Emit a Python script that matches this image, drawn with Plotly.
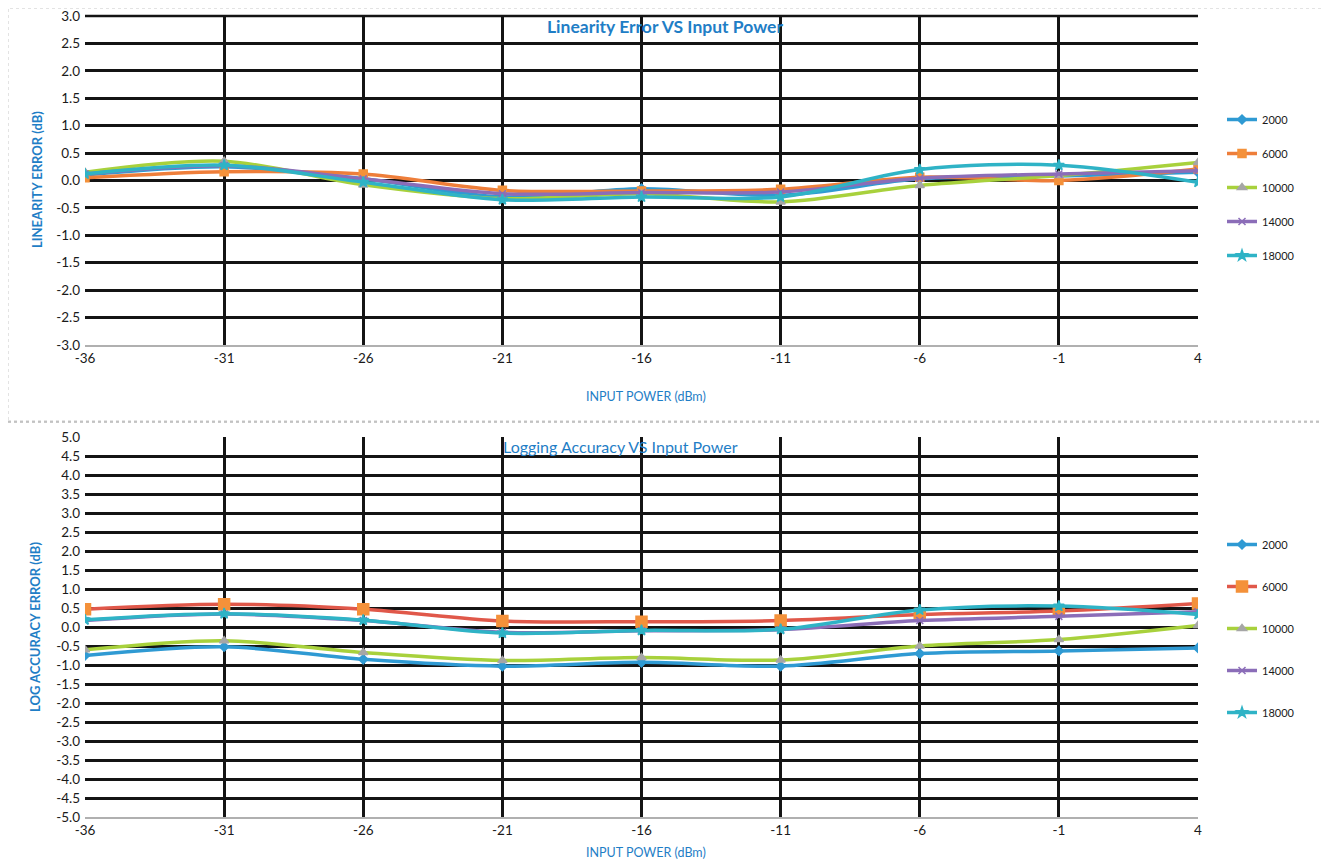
import plotly.graph_objects as go

# ---- data ----
input_power = [-36, -31, -26, -21, -16, -11, -6, -1, 4]
series_names = ["2000", "6000", "10000", "14000", "18000"]

lin_2000 = [0.10, 0.25, 0.03, -0.30, -0.15, -0.27, 0.03, 0.08, 0.15]
lin_6000 = [0.05, 0.16, 0.12, -0.18, -0.19, -0.16, 0.06, 0.00, 0.21]
lin_10000 = [0.15, 0.35, -0.08, -0.33, -0.24, -0.39, -0.09, 0.09, 0.33]
lin_14000 = [0.12, 0.27, 0.03, -0.24, -0.22, -0.21, 0.04, 0.12, 0.18]
lin_18000 = [0.12, 0.28, -0.03, -0.35, -0.30, -0.30, 0.20, 0.28, -0.03]

log_2000 = [-0.75, -0.52, -0.85, -1.03, -0.93, -1.03, -0.70, -0.63, -0.55]
log_6000 = [0.47, 0.60, 0.47, 0.16, 0.14, 0.17, 0.33, 0.42, 0.62]
log_10000 = [-0.60, -0.36, -0.67, -0.88, -0.80, -0.87, -0.50, -0.33, 0.04]
log_14000 = [0.17, 0.34, 0.17, -0.14, -0.10, -0.07, 0.17, 0.28, 0.40]
log_18000 = [0.19, 0.35, 0.18, -0.16, -0.09, -0.06, 0.45, 0.55, 0.33]

x_ticks = [-36, -31, -26, -21, -16, -11, -6, -1, 4]
lin_yticks = [-3.0 + 0.5 * i for i in range(13)]
log_yticks = [-5.0 + 0.5 * i for i in range(21)]

x_ticktext = [str(v) for v in x_ticks]
lin_ticktext = [f"{v:.1f}" for v in lin_yticks]
log_ticktext = [f"{v:.1f}" for v in log_yticks]

lin_data = [lin_2000, lin_6000, lin_10000, lin_14000, lin_18000]
log_data = [log_2000, log_6000, log_10000, log_14000, log_18000]

# ---- styles ----
line_colors = ["#2F9AD3", "#E0584A", "#A8D13C", "#8B6DB8", "#2FB3C6"]
lin_line_colors = ["#2F9AD3", "#EE7E3A", "#A8D13C", "#8B6DB8", "#2FB3C6"]
marker_symbols = ["diamond", "square", "triangle-up", "x-thin-open", "star"]
marker_colors = ["#2F9AD3", "#F4913A", "#A6A6A6", "#8B6DB8", "#2FB3C6"]
marker_sizes = [7, 8, 8, 7, 8]

W, H = 1330, 863
OFF = 8  # page body margin shifts the figure by this many pixels
FONT = "Lato"
BLUE = "#1F7EC6"

def px_x(p):
    return (p - OFF) / W

def px_y(p):
    return 1 - (p - OFF) / H

fig = go.Figure()

for i, name in enumerate(series_names):
    mk = dict(symbol=marker_symbols[i], size=marker_sizes[i], color=marker_colors[i],
              line=dict(width=1.5, color=marker_colors[i]))
    fig.add_trace(go.Scatter(
        x=input_power, y=lin_data[i], name=name, mode="lines+markers",
        line=dict(color=lin_line_colors[i], width=3.5, shape="spline", smoothing=0.9),
        marker=mk, xaxis="x", yaxis="y", legend="legend", legendgroup="a" + name))
for i, name in enumerate(series_names):
    mk = dict(symbol=marker_symbols[i], size=marker_sizes[i] + (3 if i == 1 else 0),
              color=marker_colors[i], line=dict(width=1.5, color=marker_colors[i]))
    fig.add_trace(go.Scatter(
        x=input_power, y=log_data[i], name=name, mode="lines+markers",
        line=dict(color=line_colors[i], width=3.5, shape="spline", smoothing=0.9),
        marker=mk, xaxis="x2", yaxis="y2", legend="legend2", legendgroup="b" + name))

grid = dict(showgrid=True, gridcolor="#141414", gridwidth=2.6, zeroline=False,
            ticks="", automargin=False, ticklabeloverflow="allow",
            tickfont=dict(family=FONT, size=13.5, color="#1a1a1a"))

xdom = [px_x(85), px_x(1198)]
fig.update_layout(
    width=W, height=H,
    margin=dict(l=0, r=0, t=0, b=0, autoexpand=False),
    paper_bgcolor="white", plot_bgcolor="white",
    font=dict(family=FONT),
    xaxis=dict(domain=xdom, range=[-36, 4], tickvals=x_ticks, ticktext=x_ticktext,
               anchor="y", showline=True, linecolor="#B0B0B0", linewidth=1.5, **grid),
    yaxis=dict(domain=[px_y(345), px_y(16)], range=[-3, 3], tickvals=lin_yticks,
               ticktext=lin_ticktext, anchor="x", ticklabelstandoff=4, **grid),
    xaxis2=dict(domain=xdom, range=[-36, 4], tickvals=x_ticks, ticktext=x_ticktext,
                anchor="y2", showline=True, linecolor="#B0B0B0", linewidth=1.5, **grid),
    yaxis2=dict(domain=[px_y(817), px_y(437)], range=[-5, 5], tickvals=log_yticks,
                ticktext=log_ticktext, anchor="x2", ticklabelstandoff=4, **grid),
    legend=dict(x=px_x(1222), y=px_y(105), xanchor="left", yanchor="top",
                font=dict(family=FONT, size=11, color="#1a1a1a"),
                tracegroupgap=15, itemwidth=30, bgcolor="rgba(0,0,0,0)"),
    legend2=dict(x=px_x(1222), y=px_y(530), xanchor="left", yanchor="top",
                 font=dict(family=FONT, size=11, color="#1a1a1a"),
                 tracegroupgap=23, itemwidth=30, bgcolor="rgba(0,0,0,0)"),
    showlegend=True,
)

annotations = [
    dict(text="<b>Linearity Error VS Input Power</b>", x=px_x(665), y=px_y(26),
         font=dict(family=FONT, size=17.5, color=BLUE)),
    dict(text="Logging Accuracy VS Input Power", x=px_x(620), y=px_y(446),
         font=dict(family=FONT, size=16, color=BLUE)),
    dict(text="INPUT POWER (dBm)", x=px_x(646), y=px_y(396),
         font=dict(family=FONT, size=12.5, color=BLUE)),
    dict(text="INPUT POWER (dBm)", x=px_x(646), y=px_y(852),
         font=dict(family=FONT, size=12.5, color=BLUE)),
    dict(text="<b>LINEARITY ERROR (dB)</b>", x=px_x(37), y=px_y(180), textangle=-90,
         font=dict(family=FONT, size=13, color=BLUE)),
    dict(text="<b>LOG ACCURACY ERROR (dB)</b>", x=px_x(35), y=px_y(627), textangle=-90,
         font=dict(family=FONT, size=13, color=BLUE)),
]
for a in annotations:
    a.update(xref="paper", yref="paper", showarrow=False, xanchor="center", yanchor="middle")
fig.update_layout(annotations=annotations)

shapes = [
    dict(type="rect", x0=px_x(8), x1=px_x(1328), y0=px_y(421), y1=px_y(8),
         line=dict(color="#C8C8C8", width=1, dash="dot"), layer="below"),
    dict(type="line", x0=0, x1=1, y0=px_y(422), y1=px_y(422),
         line=dict(color="#B8B8B8", width=1.5, dash="dot"), layer="below"),
    # top border of the upper plot area (3.0 grid line at the domain edge)
    dict(type="line", x0=xdom[0], x1=xdom[1], y0=px_y(16), y1=px_y(16),
         line=dict(color="#141414", width=2.6), layer="above"),
]
for s in shapes:
    s.update(xref="paper", yref="paper")
fig.update_layout(shapes=shapes)

fig.write_html("out.html")
